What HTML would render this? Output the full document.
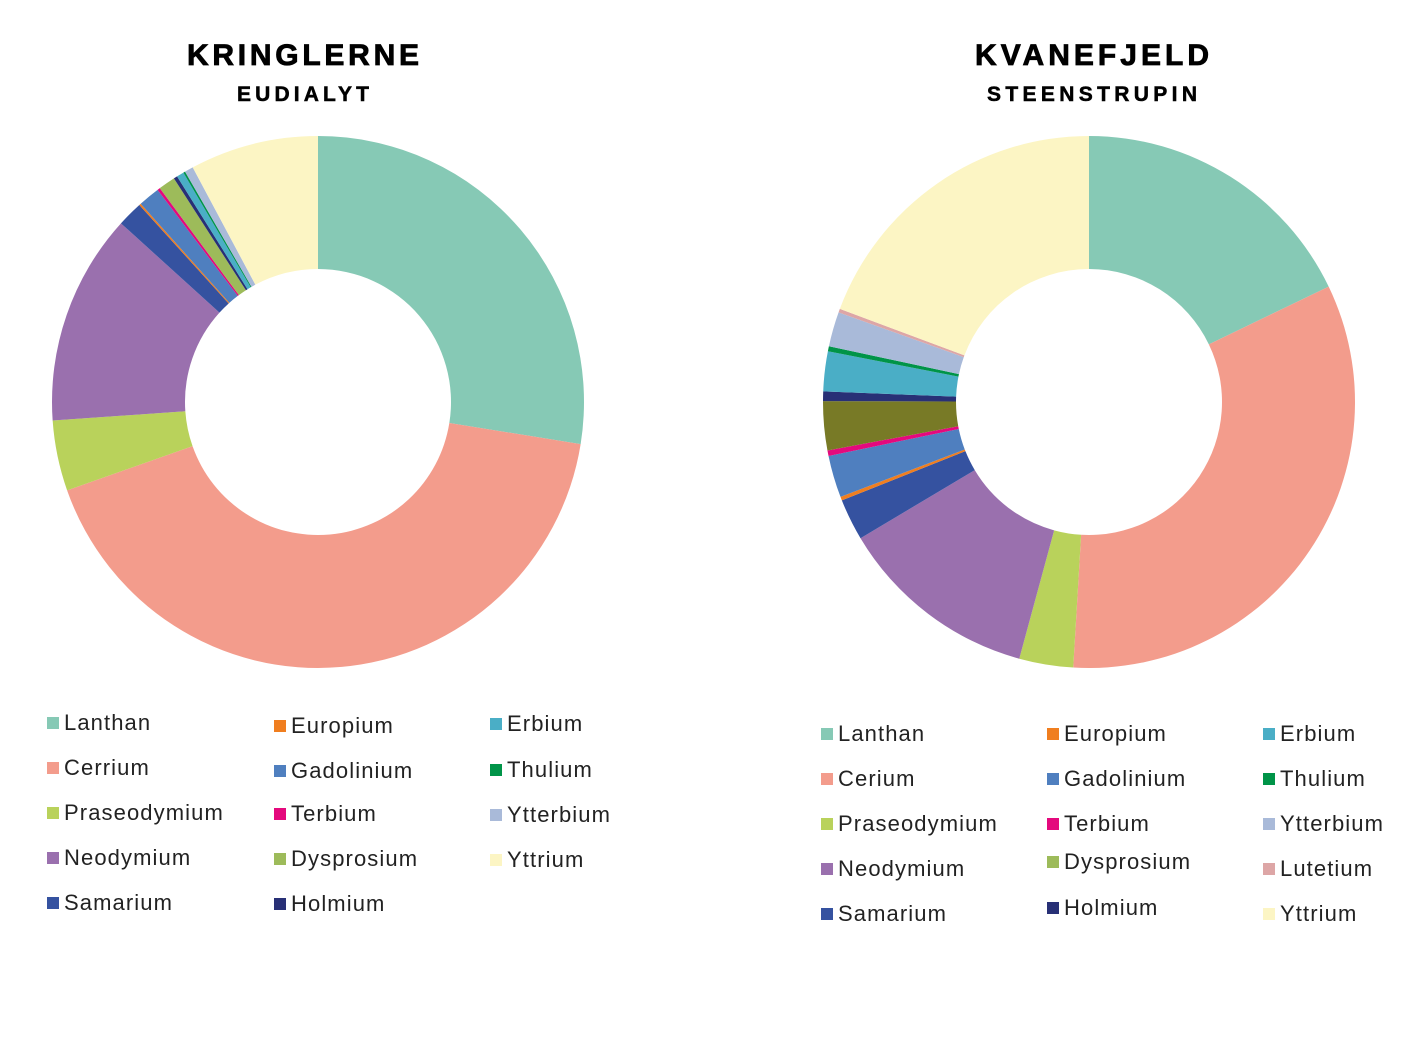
<!DOCTYPE html>
<html><head><meta charset="utf-8"><style>
html,body{margin:0;padding:0;background:#fff;}
svg{display:block;font-family:"Liberation Sans",sans-serif;}
</style></head><body>
<svg id="s" width="1417" height="1042" viewBox="0 0 1417 1042" xmlns="http://www.w3.org/2000/svg">
<text x="303" y="65" text-anchor="middle" font-size="30" font-weight="bold" stroke="#000" stroke-width="0.8" textLength="232" lengthAdjust="spacing">KRINGLERNE</text>
<text x="303" y="101" text-anchor="middle" font-size="21" font-weight="bold" stroke="#000" stroke-width="0.5" textLength="132" lengthAdjust="spacing">EUDIALYT</text>
<text x="1092" y="65" text-anchor="middle" font-size="30" font-weight="bold" stroke="#000" stroke-width="0.8" textLength="234" lengthAdjust="spacing">KVANEFJELD</text>
<text x="1092" y="101" text-anchor="middle" font-size="21" font-weight="bold" stroke="#000" stroke-width="0.5" textLength="210" lengthAdjust="spacing">STEENSTRUPIN</text>
<g id="g"></g>
</svg>
<script>
var C={La:"#86c9b5",Ce:"#f39c8c",Pr:"#b9d25b",Nd:"#9a70ae",Sm:"#3552a0",Eu:"#f07e1f",Gd:"#4f7fbf",Tb:"#e4097d",Dy:"#9dbb5a",Ho:"#283076",Er:"#4aaec6",Tm:"#009448",Yb:"#a9bad9",Y:"#fcf5c4",Lu:"#dda6a6",Ol:"#787a26"};
var g=document.getElementById("g"),h="";
function donut(cx,cy,R,r,segs){var a0=0;segs.forEach(function(s){var a1=s[1];
var p=function(rad,a){var t=a*Math.PI/180;return (cx+rad*Math.sin(t)).toFixed(2)+","+(cy-rad*Math.cos(t)).toFixed(2);};
var lg=(a1-a0)>180?1:0;
h+='<path fill="'+C[s[0]]+'" d="M'+p(R,a0)+' A'+R+','+R+' 0 '+lg+' 1 '+p(R,a1)+' L'+p(r,a1)+' A'+r+','+r+' 0 '+lg+' 0 '+p(r,a0)+'Z"/>';a0=a1;});}
donut(318,402,266,133,[["La",99.1],["Ce",250.6],["Pr",266],["Nd",312.2],["Sm",317.8],["Eu",318.2],["Gd",322.9],["Tb",323.5],["Dy",327.2],["Ho",328.0],["Er",329.6],["Tm",330.0],["Yb",331.9],["Y",360]]);
donut(1089,402,266,133,[["La",64.3],["Ce",183.4],["Pr",195.2],["Nd",239.2],["Sm",248.3],["Eu",249.1],["Gd",258.3],["Tb",259.5],["Ol",270.2],["Ho",272.3],["Er",281.0],["Tm",282.1],["Yb",289.7],["Lu",290.5],["Y",360]]);
function leg(x,y,k,t){h+='<rect x="'+(x-6)+'" y="'+(y-6)+'" width="12" height="12" fill="'+C[k]+'"/><text x="'+(x+11)+'" y="'+(y+7)+'" font-size="22" letter-spacing="1.1" fill="#222">'+t+'</text>';}
var L=[[47,723,"La","Lanthan"],[47,768,"Ce","Cerrium"],[47,813,"Pr","Praseodymium"],[47,858,"Nd","Neodymium"],[47,903,"Sm","Samarium"],
[274,726,"Eu","Europium"],[274,771,"Gd","Gadolinium"],[274,814,"Tb","Terbium"],[274,859,"Dy","Dysprosium"],[274,904,"Ho","Holmium"],
[490,724,"Er","Erbium"],[490,770,"Tm","Thulium"],[490,815,"Yb","Ytterbium"],[490,860,"Y","Yttrium"],
[821,734,"La","Lanthan"],[821,779,"Ce","Cerium"],[821,824,"Pr","Praseodymium"],[821,869,"Nd","Neodymium"],[821,914,"Sm","Samarium"],
[1047,734,"Eu","Europium"],[1047,779,"Gd","Gadolinium"],[1047,824,"Tb","Terbium"],[1047,862,"Dy","Dysprosium"],[1047,908,"Ho","Holmium"],
[1263,734,"Er","Erbium"],[1263,779,"Tm","Thulium"],[1263,824,"Yb","Ytterbium"],[1263,869,"Lu","Lutetium"],[1263,914,"Y","Yttrium"]];
L.forEach(function(a){leg(a[0]+6,a[1],a[2],a[3]);});
g.innerHTML=h;
</script>
</body></html>
